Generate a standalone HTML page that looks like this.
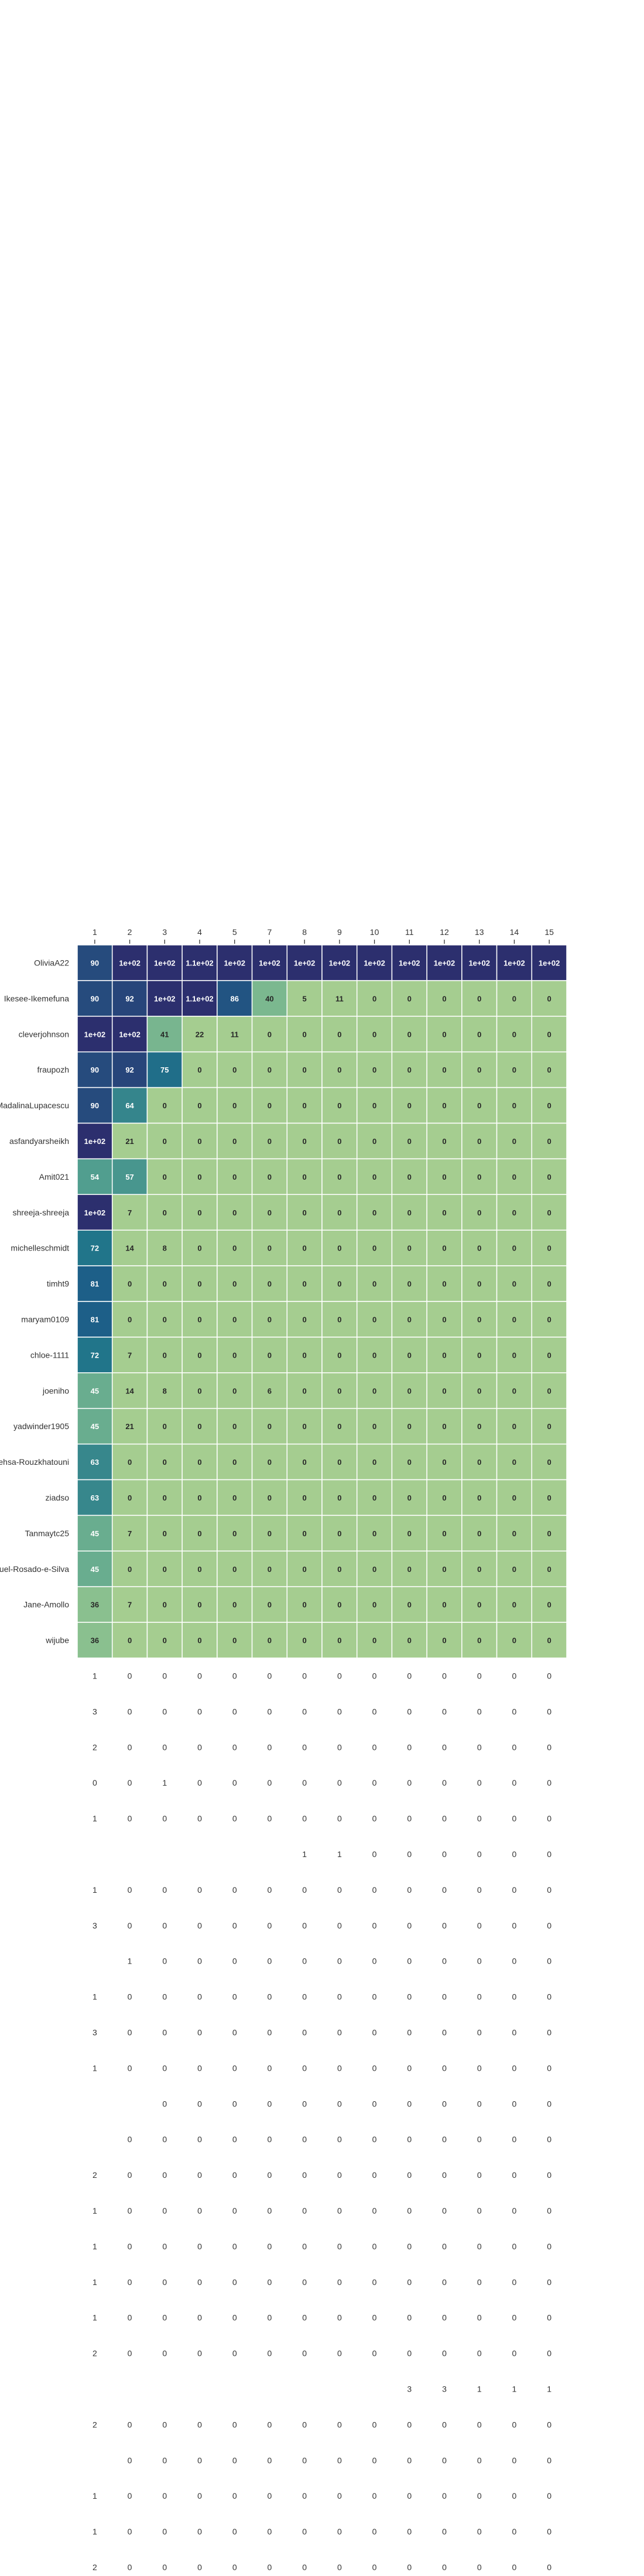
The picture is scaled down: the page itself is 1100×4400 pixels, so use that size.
<!DOCTYPE html>
<html><head><meta charset="utf-8"><title>Heatmap</title>
<style>
html,body{margin:0;padding:0;background:#fff;}
svg{display:block;font-family:"Liberation Sans",Arial,sans-serif;}
</style></head>
<body>
<svg id="chart" width="1100" height="4400" viewBox="0 0 1100 4400"></svg>
<script>
const columns = ["1","2","3","4","5","7","8","9","10","11","12","13","14","15"];
const rowLabels = ["OliviaA22","Ikesee-Ikemefuna","cleverjohnson","fraupozh","MadalinaLupacescu","asfandyarsheikh","Amit021","shreeja-shreeja","michelleschmidt","timht9","maryam0109","chloe-1111","joeniho","yadwinder1905","Mehsa-Rouzkhatouni","ziadso","Tanmaytc25","Miguel-Rosado-e-Silva","Jane-Amollo","wijube"];
const heatValues = [
 [90,100,100,110,100,100,100,100,100,100,100,100,100,100],
 [90,92,100,110,86,40,5,11,0,0,0,0,0,0],
 [100,100,41,22,11,0,0,0,0,0,0,0,0,0],
 [90,92,75,0,0,0,0,0,0,0,0,0,0,0],
 [90,64,0,0,0,0,0,0,0,0,0,0,0,0],
 [100,21,0,0,0,0,0,0,0,0,0,0,0,0],
 [54,57,0,0,0,0,0,0,0,0,0,0,0,0],
 [100,7,0,0,0,0,0,0,0,0,0,0,0,0],
 [72,14,8,0,0,0,0,0,0,0,0,0,0,0],
 [81,0,0,0,0,0,0,0,0,0,0,0,0,0],
 [81,0,0,0,0,0,0,0,0,0,0,0,0,0],
 [72,7,0,0,0,0,0,0,0,0,0,0,0,0],
 [45,14,8,0,0,6,0,0,0,0,0,0,0,0],
 [45,21,0,0,0,0,0,0,0,0,0,0,0,0],
 [63,0,0,0,0,0,0,0,0,0,0,0,0,0],
 [63,0,0,0,0,0,0,0,0,0,0,0,0,0],
 [45,7,0,0,0,0,0,0,0,0,0,0,0,0],
 [45,0,0,0,0,0,0,0,0,0,0,0,0,0],
 [36,7,0,0,0,0,0,0,0,0,0,0,0,0],
 [36,0,0,0,0,0,0,0,0,0,0,0,0,0]
];
const N = null;
const extraValues = [
 [1,0,0,0,0,0,0,0,0,0,0,0,0,0],
 [3,0,0,0,0,0,0,0,0,0,0,0,0,0],
 [2,0,0,0,0,0,0,0,0,0,0,0,0,0],
 [0,0,1,0,0,0,0,0,0,0,0,0,0,0],
 [1,0,0,0,0,0,0,0,0,0,0,0,0,0],
 [N,N,N,N,N,N,1,1,0,0,0,0,0,0],
 [1,0,0,0,0,0,0,0,0,0,0,0,0,0],
 [3,0,0,0,0,0,0,0,0,0,0,0,0,0],
 [N,1,0,0,0,0,0,0,0,0,0,0,0,0],
 [1,0,0,0,0,0,0,0,0,0,0,0,0,0],
 [3,0,0,0,0,0,0,0,0,0,0,0,0,0],
 [1,0,0,0,0,0,0,0,0,0,0,0,0,0],
 [N,N,0,0,0,0,0,0,0,0,0,0,0,0],
 [N,0,0,0,0,0,0,0,0,0,0,0,0,0],
 [2,0,0,0,0,0,0,0,0,0,0,0,0,0],
 [1,0,0,0,0,0,0,0,0,0,0,0,0,0],
 [1,0,0,0,0,0,0,0,0,0,0,0,0,0],
 [1,0,0,0,0,0,0,0,0,0,0,0,0,0],
 [1,0,0,0,0,0,0,0,0,0,0,0,0,0],
 [2,0,0,0,0,0,0,0,0,0,0,0,0,0],
 [N,N,N,N,N,N,N,N,N,3,3,1,1,1],
 [2,0,0,0,0,0,0,0,0,0,0,0,0,0],
 [N,0,0,0,0,0,0,0,0,0,0,0,0,0],
 [1,0,0,0,0,0,0,0,0,0,0,0,0,0],
 [1,0,0,0,0,0,0,0,0,0,0,0,0,0],
 [2,0,0,0,0,0,0,0,0,0,0,0,0,0]
];

const NS = "http://www.w3.org/2000/svg";
const svg = document.getElementById("chart");
const LEFT = 132, RIGHT = 968, TOP = 1614, ROWH = 60.9;
const COLW = (RIGHT - LEFT) / columns.length;
function xCol(i){ return LEFT + i * COLW; }
function yRow(r){ return TOP + r * ROWH; }

const stopV = [30,36,45,54,63,72,81,90,100];
const stopC = ["#a5cd90","#8ac08f","#69ad8f","#519e8f","#37878c","#21758a","#1d5f88","#264b7d","#2c2f6e"];
function hex(c){ return [parseInt(c.substr(1,2),16),parseInt(c.substr(3,2),16),parseInt(c.substr(5,2),16)]; }
function colorScale(v){
  if (v <= stopV[0]) return hex(stopC[0]);
  for (let k=1;k<stopV.length;k++){
    if (v <= stopV[k]){
      const t=(v-stopV[k-1])/(stopV[k]-stopV[k-1]);
      const a=hex(stopC[k-1]), b=hex(stopC[k]);
      return a.map((x,j)=>Math.round(x+(b[j]-x)*t));
    }
  }
  return hex(stopC[stopC.length-1]);
}
function fmt(v){
  if (v >= 100){ let s = v.toExponential(1).replace(".0e","e"); return s.replace(/e\+(\d)$/,"e+0$1"); }
  return String(v);
}
function mk(tag, attrs, parent){
  const el = document.createElementNS(NS, tag);
  for (const k in attrs) el.setAttribute(k, attrs[k]);
  (parent||svg).appendChild(el);
  return el;
}

// column ticks and labels
columns.forEach((c,i)=>{
  const cx = xCol(i) + COLW/2;
  const tk = mk("line",{x1:cx,x2:cx,y1:1605,y2:1612,stroke:"#333","stroke-width":1.3});
  
  
  const t = mk("text",{x:cx,y:1597,"text-anchor":"middle","font-size":14,fill:"#333"});
  t.textContent = c;
  
  
});

// heatmap rows
heatValues.forEach((row,r)=>{
  const y = yRow(r);
  const lab = mk("text",{x:118,y:y+ROWH/2+5,"text-anchor":"end","font-size":14,fill:"#333"});
  lab.textContent = rowLabels[r];
  
  
  row.forEach((v,i)=>{
    const rgb = colorScale(v);
    const rect = mk("rect",{x:xCol(i),y:y,width:COLW,height:ROWH,fill:"rgb("+rgb.join(",")+")",stroke:"#fff","stroke-width":1.5});
    
    
    const lum = 0.299*rgb[0]+0.587*rgb[1]+0.114*rgb[2];
    const t = mk("text",{x:xCol(i)+COLW/2,y:y+ROWH/2+5,"text-anchor":"middle","font-size":13,"font-weight":"bold",fill: lum < 150 ? "#ffffff" : "#262626"});
    t.textContent = fmt(v);
    
    
  });
});

// extra unstyled rows below
extraValues.forEach((row,rr)=>{
  const y = yRow(heatValues.length + rr);
  row.forEach((v,i)=>{
    if (v === null) return;
    const t = mk("text",{x:xCol(i)+COLW/2,y:y+ROWH/2+5,"text-anchor":"middle","font-size":14,fill:"#333"});
    t.textContent = String(v);
    
    
  });
});
</script>
</body></html>
